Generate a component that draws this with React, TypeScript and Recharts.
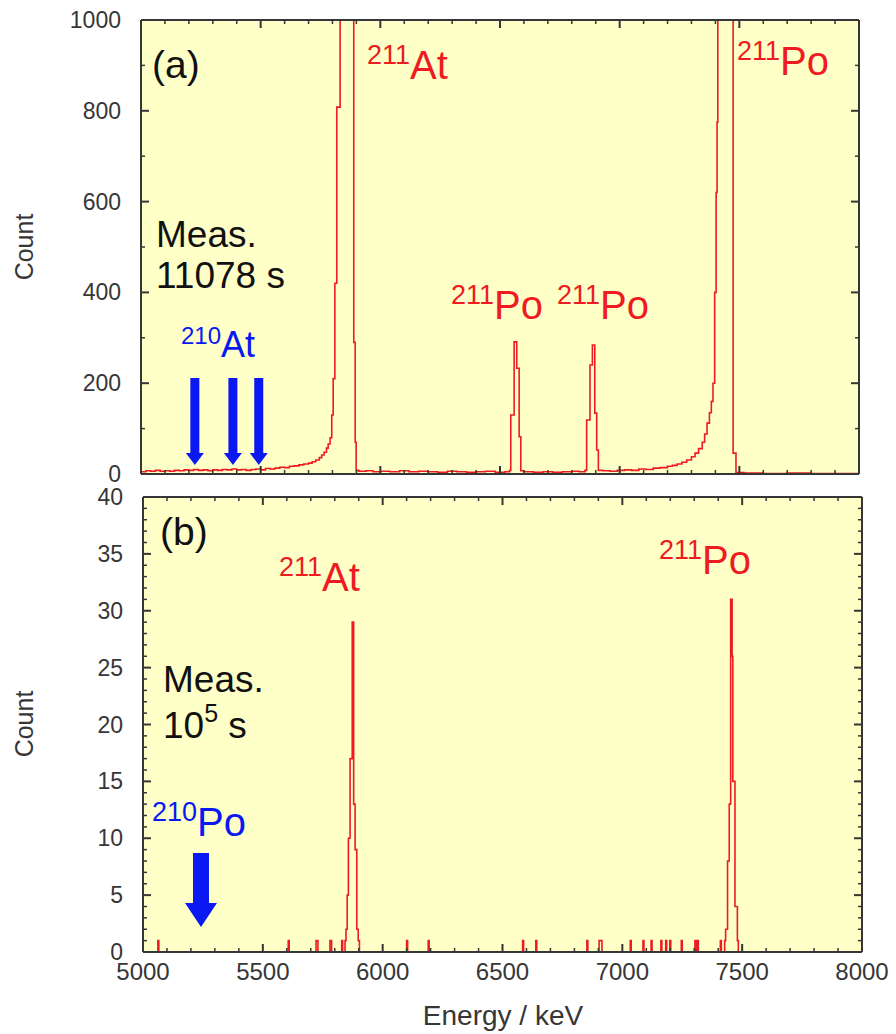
import React from 'react';
import { ComposedChart, Line, XAxis, YAxis, CartesianGrid, ReferenceDot } from 'recharts';

const FONT = '"Liberation Sans", Arial, sans-serif';
const RED = '#ee1b22';
const BLUE = '#0a18f2';
const AXIS = '#363636';
const PANEL_BG = '#ffffc8';

// x axis (keV), shared by both panels
const xMajor = [5000, 5500, 6000, 6500, 7000, 7500, 8000];
const yMajorA = [0, 200, 400, 600, 800, 1000];
const yMajorB = [0, 5, 10, 15, 20, 25, 30, 35, 40];

// (a) 11078 s spectrum: bin start energy / count (step histogram)
const topE = [
  5000, 5020, 5040, 5060, 5080, 5100, 5120, 5140, 5160, 5180, 5200, 5220, 5240, 5260, 5280, 5300,
  5320, 5340, 5360, 5380, 5400, 5420, 5440, 5460, 5480, 5500, 5520, 5540, 5560, 5580, 5600, 5620,
  5640, 5660, 5680, 5700, 5715, 5730, 5745, 5755, 5765, 5775, 5782, 5790, 5797, 5803, 5810, 5818,
  5832, 5845, 5860, 5875, 5889, 5895, 5899, 5910, 5940, 5970, 6000, 6040, 6080, 6120, 6160, 6200,
  6240, 6280, 6320, 6360, 6400, 6440, 6480, 6520, 6540, 6545, 6559, 6570, 6580, 6587, 6600, 6640,
  6680, 6720, 6760, 6800, 6830, 6855, 6862, 6876, 6886, 6896, 6904, 6911, 6930, 6960, 6990, 7020,
  7050, 7080, 7110, 7140, 7170, 7200, 7220, 7240, 7260, 7280, 7300, 7315, 7330, 7345, 7355, 7365,
  7375, 7383, 7390, 7397, 7403, 7407, 7410, 7430, 7450, 7474, 7486, 7520, 7600, 7700, 7800, 7900,
  8000,
];
const topC = [
  5, 7, 6, 8, 6, 7, 6, 8, 7, 9, 8, 10, 8, 9, 7, 9,
  8, 10, 9, 11, 9, 10, 8, 10, 11, 9, 12, 11, 13, 15, 14, 17,
  18, 20, 22, 24, 27, 31, 36, 42, 48, 57, 66, 80, 130, 210, 420, 808,
  3000, 9000, 12000, 8000, 290, 70, 8, 6, 7, 5, 6, 5, 7, 5, 6, 5,
  4, 6, 5, 4, 5, 6, 4, 5, 8, 130, 291, 233, 82, 7, 5, 4,
  5, 4, 5, 6, 5, 8, 119, 240, 284, 134, 53, 8, 7, 6, 8, 9,
  8, 11, 10, 13, 14, 17, 19, 22, 26, 31, 38, 46, 56, 70, 88, 112,
  135, 160, 200, 400, 620, 775, 3000, 10000, 9000, 46, 3, 2, 1, 2, 1, 1,
  1,
];

// (b) 1e5 s spectrum
const botE = [
  5000, 5062, 5066, 5606, 5610, 5722, 5730, 5780, 5787, 5829, 5833, 5843, 5847, 5852, 5857, 5864,
  5873, 5879, 5885, 5892, 5898, 5903, 6100, 6104, 6190, 6194, 6584, 6588, 6639, 6643, 6852, 6856,
  6903, 6915, 7033, 7037, 7086, 7090, 7120, 7124, 7161, 7165, 7181, 7185, 7198, 7202, 7246, 7250,
  7303, 7307, 7313, 7317, 7409, 7413, 7427, 7431, 7439, 7446, 7452, 7458, 7461, 7470, 7480, 7484,
  8000,
];
const botC = [
  0, 1, 0, 1, 0, 1, 0, 1, 0, 1, 0, 1, 2, 5, 10, 17,
  29, 13, 9, 2, 1, 0, 1, 0, 1, 0, 1, 0, 1, 0, 1, 0,
  1, 0, 1, 0, 1, 0, 1, 0, 1, 0, 1, 0, 1, 0, 1, 0,
  1, 0, 1, 0, 1, 0, 1, 2, 8, 13, 31, 26, 15, 4, 1, 0,
  0,
];

// arrow tips (energy, count)
const arrowAE = [5225, 5384, 5492];
const arrowAC = [20, 20, 20];
const arrowBE = [5242];
const arrowBC = [2.2];

function withMinor(major: number[], step: number) {
  const out: number[] = [];
  const n = Math.round((major[major.length - 1] - major[0]) / step);
  for (let i = 0; i <= n; i++) out.push(major[0] + i * step);
  return out;
}

const makeXTick = (axisY: number, dir: number, majors: number[], labels: boolean) => (p: any) => {
  const v = p.payload.value;
  const major = majors.includes(v);
  return (
    <g>
      <line x1={p.x} x2={p.x} y1={axisY} y2={axisY + dir * (major ? 8 : 4)} stroke={AXIS} strokeWidth={major ? 2 : 1.5} />
      {labels && major && (
        <text x={p.x} y={axisY + 28} textAnchor="middle" fontSize={24} fill={AXIS} fontFamily={FONT}>{v}</text>
      )}
    </g>
  );
};

const makeYTick = (axisX: number, dir: number, majors: number[], labels: boolean) => (p: any) => {
  const v = p.payload.value;
  const major = majors.includes(v);
  return (
    <g>
      <line x1={axisX} x2={axisX + dir * (major ? 8 : 4)} y1={p.y} y2={p.y} stroke={AXIS} strokeWidth={major ? 2 : 1.5} />
      {labels && major && (
        <text x={axisX - 20} y={p.y} dy="0.35em" textAnchor="end" fontSize={23} fill={AXIS} fontFamily={FONT}>{v}</text>
      )}
    </g>
  );
};

const arrowShape = (shaftW: number, shaftL: number, headW: number, headL: number) => (p: any) => {
  const { cx, cy } = p;
  const pts = [
    [cx - shaftW / 2, cy - headL - shaftL],
    [cx + shaftW / 2, cy - headL - shaftL],
    [cx + shaftW / 2, cy - headL],
    [cx + headW / 2, cy - headL],
    [cx, cy],
    [cx - headW / 2, cy - headL],
    [cx - shaftW / 2, cy - headL],
  ];
  return <polygon points={pts.map(q => q.join(',')).join(' ')} fill={BLUE} />;
};

type PanelProps = {
  energies: number[];
  counts: number[];
  yMajor: number[];
  yStep: number;
  height: number;
  topH: number;
  bottomH: number;
  leftW: number;
  rightW: number;
  showXLabels: boolean;
  arrowE: number[];
  arrowC: number[];
  arrow: (p: any) => React.ReactElement;
};

function Panel(props: PanelProps) {
  const W = 896;
  const { energies, counts, yMajor, yStep, height, topH, bottomH, leftW, rightW } = props;
  const data = energies.map((e, i) => ({ e, c: counts[i] }));
  const xTicks = withMinor(xMajor, 100);
  const yTicks = withMinor(yMajor, yStep);
  const yDomain = [yMajor[0], yMajor[yMajor.length - 1]];
  const plotBottom = height - bottomH;
  const plotRight = W - rightW;
  return (
    <ComposedChart width={W} height={height} data={data} margin={{ top: 0, right: 0, bottom: 0, left: 0 }}>
      <CartesianGrid xAxisId="b" yAxisId="l" fill={PANEL_BG} fillOpacity={1} horizontal={false} vertical={false} />
      <XAxis xAxisId="b" dataKey="e" type="number" domain={[5000, 8000]} allowDataOverflow ticks={xTicks} interval={0}
        height={bottomH} tickSize={0} tickMargin={0} tickLine={false} axisLine={{ stroke: AXIS, strokeWidth: 2 }}
        tick={makeXTick(plotBottom, -1, xMajor, props.showXLabels)} />
      <XAxis xAxisId="t" dataKey="e" orientation="top" type="number" domain={[5000, 8000]} allowDataOverflow ticks={xTicks} interval={0}
        height={topH} tickSize={0} tickMargin={0} tickLine={false} axisLine={{ stroke: AXIS, strokeWidth: 2 }}
        tick={makeXTick(topH, 1, xMajor, false)} />
      <YAxis yAxisId="l" type="number" domain={yDomain} allowDataOverflow ticks={yTicks} interval={0}
        width={leftW} tickSize={0} tickMargin={0} tickLine={false} axisLine={{ stroke: AXIS, strokeWidth: 2 }}
        tick={makeYTick(leftW, 1, yMajor, true)} />
      <YAxis yAxisId="r" orientation="right" type="number" domain={yDomain} allowDataOverflow ticks={yTicks} interval={0}
        width={rightW} tickSize={0} tickMargin={0} tickLine={false} axisLine={{ stroke: AXIS, strokeWidth: 2 }}
        tick={makeYTick(plotRight, -1, yMajor, false)} />
      <Line xAxisId="b" yAxisId="l" dataKey="c" type="stepAfter" stroke={RED} strokeWidth={1.6}
        dot={false} activeDot={false} isAnimationActive={false} />
      {props.arrowE.map((e, i) => (
        <ReferenceDot key={i} xAxisId="b" yAxisId="l" x={e} y={props.arrowC[i]} r={1}
          ifOverflow="visible" shape={props.arrow} />
      ))}
    </ComposedChart>
  );
}

function Iso(p: { x: number; y: number; mass: string; el: string; color: string; big: number; small: number; rise: number }) {
  return (
    <text x={p.x} y={p.y} fill={p.color} fontFamily={FONT}>
      <tspan fontSize={p.small} dy={-p.rise}>{p.mass}</tspan>
      <tspan fontSize={p.big} dy={p.rise}>{p.el}</tspan>
    </text>
  );
}

export default function App() {
  return (
    <div style={{ position: 'absolute', left: 0, top: 0, width: 896, height: 1034, background: '#fff', fontFamily: FONT }}>
      <div style={{ position: 'absolute', left: 0, top: 0 }}>
        <Panel energies={topE} counts={topC} yMajor={yMajorA} yStep={100} height={500} topH={20} bottomH={26}
          leftW={141} rightW={37} showXLabels={false} arrowE={arrowAE} arrowC={arrowAC}
          arrow={arrowShape(9, 75, 18, 12)} />
      </div>
      <div style={{ position: 'absolute', left: 0, top: 474 }}>
        <Panel energies={botE} counts={botC} yMajor={yMajorB} yStep={1} height={560} topH={23} bottomH={82}
          leftW={143} rightW={34} showXLabels={true} arrowE={arrowBE} arrowC={arrowBC}
          arrow={arrowShape(16, 50, 32, 24)} />
      </div>
      <svg width={896} height={1034} style={{ position: 'absolute', left: 0, top: 0, pointerEvents: 'none' }}>
        <text x={24} y={247} transform="rotate(-90 24 247)" textAnchor="middle" dy="0.35em" fontSize={25} fill={AXIS}>Count</text>
        <text x={24} y={724} transform="rotate(-90 24 724)" textAnchor="middle" dy="0.35em" fontSize={25} fill={AXIS}>Count</text>
        <text x={503} y={1025} textAnchor="middle" fontSize={28} fill={AXIS}>Energy / keV</text>

        <text x={152} y={78} fontSize={39} fill="#111">(a)</text>
        <text x={156} y={247} fontSize={37} fill="#111">Meas.</text>
        <text x={156} y={288} fontSize={37} fill="#111">11078 s</text>
        <Iso x={181} y={357} mass="210" el="At" color={BLUE} big={36} small={24} rise={13} />
        <Iso x={367} y={79} mass="211" el="At" color={RED} big={40} small={27} rise={15} />
        <Iso x={737} y={75} mass="211" el="Po" color={RED} big={40} small={27} rise={15} />
        <Iso x={451} y={319} mass="211" el="Po" color={RED} big={40} small={27} rise={15} />
        <Iso x={557} y={319} mass="211" el="Po" color={RED} big={40} small={27} rise={15} />

        <text x={160} y={545} fontSize={39} fill="#111">(b)</text>
        <text x={163} y={692} fontSize={37} fill="#111">Meas.</text>
        <text x={163} y={738} fontSize={37} fill="#111">
          10<tspan fontSize={25} dy={-16}>5</tspan><tspan dy={16}> s</tspan>
        </text>
        <Iso x={279} y={591} mass="211" el="At" color={RED} big={40} small={27} rise={15} />
        <Iso x={659} y={574} mass="211" el="Po" color={RED} big={40} small={27} rise={15} />
        <Iso x={152} y={836} mass="210" el="Po" color={BLUE} big={40} small={27} rise={15} />
      </svg>
    </div>
  );
}
